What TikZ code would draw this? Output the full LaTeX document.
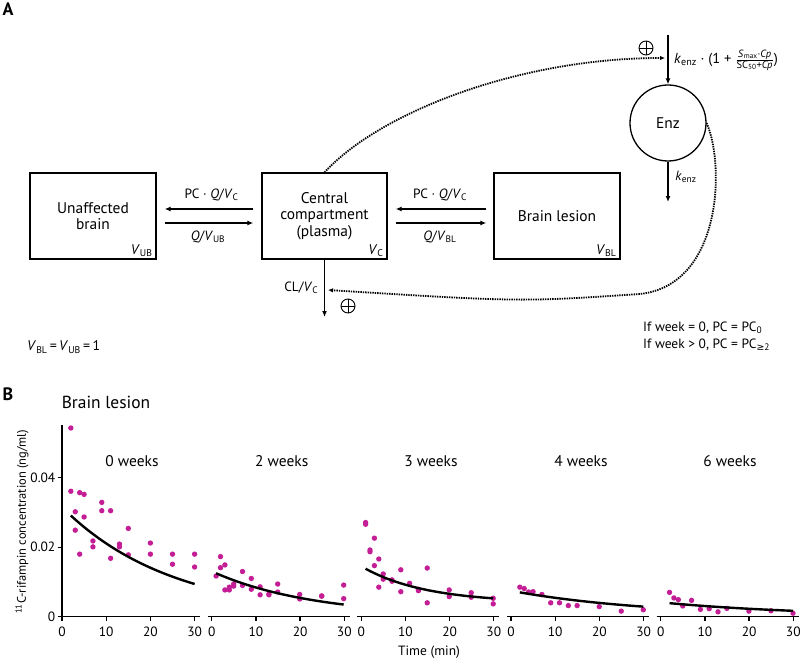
\documentclass[tikz,border=0pt]{standalone}
\usepackage{fontspec}
\setmainfont{PT Sans}
\newfontfamily\dejavu{DejaVu Sans}
\usetikzlibrary{arrows.meta,calc}
\newcommand\myfs[2]{\fontsize{#1}{#2}\selectfont}
\newcommand\lo[1]{\textsubscript{#1}}
\definecolor{mag}{RGB}{196,30,150}
\begin{document}
\begin{tikzpicture}[x=1bp,y=-1bp,
  box/.style={draw, line width=1.3bp, minimum width=126bp, minimum height=86bp, inner sep=0pt, align=center, font=\myfs{15.5}{16.5}},
  arr/.style={line width=1.3bp, -{Latex[length=6bp,width=5bp]}},
  fb/.style={line width=1.8bp, dash pattern=on 1.4bp off 1.0bp, -{Latex[length=5bp,width=4.5bp]}},
  lab/.style={font=\myfs{13.5}{14}, inner sep=0pt},
  vlab/.style={font=\myfs{14}{14}, inner sep=0pt},
  axis/.style={line width=1.3bp},
  tick/.style={font=\myfs{13.5}{14}, inner sep=0pt},
  title/.style={font=\myfs{15.5}{16}, inner sep=0pt},
  dot/.style={fill=mag},
  curve/.style={line width=2.4bp},
  pluscirc/.style={circle, draw, line width=0.9bp, minimum size=14bp, inner sep=0pt,
    path picture={\draw[line width=0.9bp] (path picture bounding box.north) -- (path picture bounding box.south)
      (path picture bounding box.west) -- (path picture bounding box.east);}},
]
\useasboundingbox (0,0) rectangle (800,659);

% ---------- Panel A ----------
\node[font=\bfseries\myfs{18}{18}, inner sep=0pt] (lA) at (8,9) {A};

\node[box] (ub) at (93,216) {Unaffected\\brain};
\node[box, minimum width=125bp] (cc) at (324.5,216) {Central\\compartment\\(plasma)};
\node[box] (bl) at (557,216) {Brain lesion};

\node[vlab, anchor=south east] (vub) at ($(ub.south east)+(-4,-3)$) {\textit{V}\lo{UB}};
\node[vlab, anchor=south east] (vc) at ($(cc.south east)+(-4,-3)$) {\textit{V}\lo{C}};
\node[vlab, anchor=south east] (vbl) at ($(bl.south east)+(-4,-3)$) {\textit{V}\lo{BL}};

\draw[arr] ($(cc.west)+(-8,-7)$) -- ($(ub.east)+(8,-7)$);
\draw[arr] ($(ub.east)+(8,7)$) -- ($(cc.west)+(-8,7)$);
\draw[arr] ($(bl.west)+(-7,-7)$) -- ($(cc.east)+(8,-7)$);
\draw[arr] ($(cc.east)+(8,7)$) -- ($(bl.west)+(-7,7)$);

\node[lab] (l1) at (211.5,195) {PC · \textit{Q}/\textit{V}\lo{C}};
\node[lab] (l2) at (208,237) {\textit{Q}/\textit{V}\lo{UB}};
\node[lab] (l3) at (440,195) {PC · \textit{Q}/\textit{V}\lo{C}};
\node[lab] (l4) at (440,237) {\textit{Q}/\textit{V}\lo{BL}};

\coordinate (clend) at (324.5,317);
\draw[arr] (cc.south) -- (clend);
\node[lab, anchor=east] (lcl) at (318.5,288) {CL/\textit{V}\lo{C}};
\node[pluscirc] (p2) at (348,306) {};

\node[circle, draw, line width=1.3bp, minimum size=76bp, inner sep=0pt, font=\myfs{15.5}{16}] (enz) at (668,123) {Enz};
\coordinate (enzin) at (668,35);
\draw[arr] (enzin) -- (enz.north);
\coordinate (kout) at (668,202);
\draw[arr] (enz.south) -- (kout);
\node[lab] (lk) at (686,177) {\textit{k}\lo{enz}};

\node[anchor=west, inner sep=0pt, font=\myfs{14.5}{15}] (form) at (674,60)
  {\textit{k}\lo{enz} · (1 + $\frac{\hbox{\myfs{10.5}{10.5}\textit{S}\lo{max}·\textit{Cp}}}{\hbox{\myfs{10.5}{10.5}SC\lo{50}+\textit{Cp}}}$)};
\node[pluscirc] (p1) at (646,48) {};

\coordinate (fb1end) at (665,58);
\draw[fb] (cc.north) .. controls (380,112) and (520,58) .. (fb1end);
\coordinate (fb2end) at (328,290);
\draw[fb] (enz.east) .. controls (725,165) and (722,285) .. (640,294) .. controls (520,302) .. (fb2end);

\node[anchor=west, font=\myfs{14}{14}, inner sep=0pt] (vrel) at (27,347) {\textit{V}\lo{BL}\,=\,\textit{V}\lo{UB}\,=\,1};
\node[anchor=west, font=\myfs{13.5}{14}, inner sep=0pt] (if1) at (643,328) {If week = 0, PC = PC\lo{0}};
\node[anchor=west, font=\myfs{13.5}{14}, inner sep=0pt] (if2) at (643,345) {If week > 0, PC = PC\lo{{\dejavu ≥}2}};

% ---------- Panel B ----------
\node[font=\bfseries\myfs{18}{18}, inner sep=0pt] (lB) at (8,394) {B};
\node[font=\myfs{17.5}{18}, inner sep=0pt] (blt) at (106,402) {Brain lesion};

% y axis
\draw[axis] (62,425) -- (62,616.7);
\foreach \yy/\lbl in {616.7/0, 547.2/0.02, 477.7/0.04} {
  \draw[axis] (62,\yy) -- (57.5,\yy);
  \node[tick, anchor=east] at (55.5,\yy) {\lbl};
}
\node[rotate=90, font=\myfs{12.5}{13}, inner sep=0pt] (ylab) at (22,522) {\textsuperscript{11}C-rifampin concentration (ng/ml)};

% x axes
\foreach \xo in {62,211.7,361.2,511,660.7} {
  \draw[axis] (\xo-4,616.7) -- (\xo+138,616.7);
  \foreach \t in {0,10,20,30} {
    \draw[axis] (\xo+\t*4.42,616.7) -- ++(0,4.5);
    \node[tick, anchor=base] at (\xo+\t*4.42,636.5) {\t};
  }
}
\node[title] (t0) at (132,461) {0 weeks};
\node[title] (t2) at (281.7,461) {2 weeks};
\node[title] (t3) at (431,461) {3 weeks};
\node[title] (t4) at (581,461) {4 weeks};
\node[title] (t6) at (730,461) {6 weeks};
\node[font=\myfs{13.5}{14}, inner sep=0pt] (tlab) at (429,652) {Time (min)};

% data 0 weeks
\begin{scope}[shift={(62,616.7)}, x=4.42bp, y=3.475bp]
  \foreach \t/\c in {2/54.3,2/36.1,3/30.2,3/24.9,4/35.7,4/18.0,5/35.2,5/28.7,7/21.8,7/20.1,9/32.9,9/30.5,11/30.5,11/16.8,13/20.9,13/20.1,15/25.4,15/17.8,20/21.2,20/18.0,25/18.0,25/15.1,30/18.0,30/14.3}
    \fill[dot] (\t,\c) circle[radius=2.7bp];
  \draw[curve] plot[domain=2:30,samples=50] (\x,{29.1*exp(-0.0403*(\x-2))});
\end{scope}
% data 2 weeks
\begin{scope}[shift={(211.7,616.7)}, x=4.4bp, y=3.475bp]
  \foreach \t/\c in {1/11.7,2/17.3,2/14.1,3/14.9,3/7.7,4/7.7,4/8.5,5/8.8,5/9.4,7/13.0,7/9.0,9/11.0,9/7.9,11/8.6,11/6.3,13/6.5,13/6.3,15/9.4,15/7.1,20/6.4,20/5.1,25/6.0,25/5.9,30/9.1,30/5.2}
    \fill[dot] (\t,\c) circle[radius=2.7bp];
  \draw[curve] plot[domain=1:30,samples=50] (\x,{12.5*exp(-0.0439*(\x-1))});
\end{scope}
% data 3 weeks
\begin{scope}[shift={(361.2,616.7)}, x=4.4bp, y=3.475bp]
  \foreach \t/\c in {1/27.1,1/26.6,3/22.6,2/19.2,2/18.7,3/14.7,4/16.6,4/8.5,5/12.3,5/10.8,7/10.6,7/10.2,9/13.5,9/7.2,11/9.6,13/7.9,13/7.5,15/14.0,15/4.0,20/7.7,20/5.8,25/6.9,25/5.6,30/5.3,30/3.7}
    \fill[dot] (\t,\c) circle[radius=2.7bp];
  \draw[curve] plot[domain=1:30,samples=50] (\x,{4.0+9.8*exp(-0.07*(\x-1))});
\end{scope}
% data 4 weeks
\begin{scope}[shift={(511,616.7)}, x=4.41bp, y=3.475bp]
  \foreach \t/\c in {2/8.5,3/8.1,4/7.1,5/7.2,7/6.4,9/4.0,11/4.0,13/3.2,15/3.2,20/2.9,25/1.6,30/2.0}
    \fill[dot] (\t,\c) circle[radius=2.7bp];
  \draw[curve] plot[domain=2:30,samples=50] (\x,{7.0*exp(-0.0315*(\x-2))});
\end{scope}
% data 6 weeks
\begin{scope}[shift={(660.7,616.7)}, x=4.41bp, y=3.475bp]
  \foreach \t/\c in {2/7.0,3/5.4,4/4.9,5/3.1,7/4.7,9/2.1,11/2.3,13/1.4,15/2.4,20/1.6,25/1.7,30/1.0}
    \fill[dot] (\t,\c) circle[radius=2.7bp];
  \draw[curve] plot[domain=2:30,samples=50] (\x,{3.9*exp(-0.0297*(\x-2))});
\end{scope}
\end{tikzpicture}
\end{document}
